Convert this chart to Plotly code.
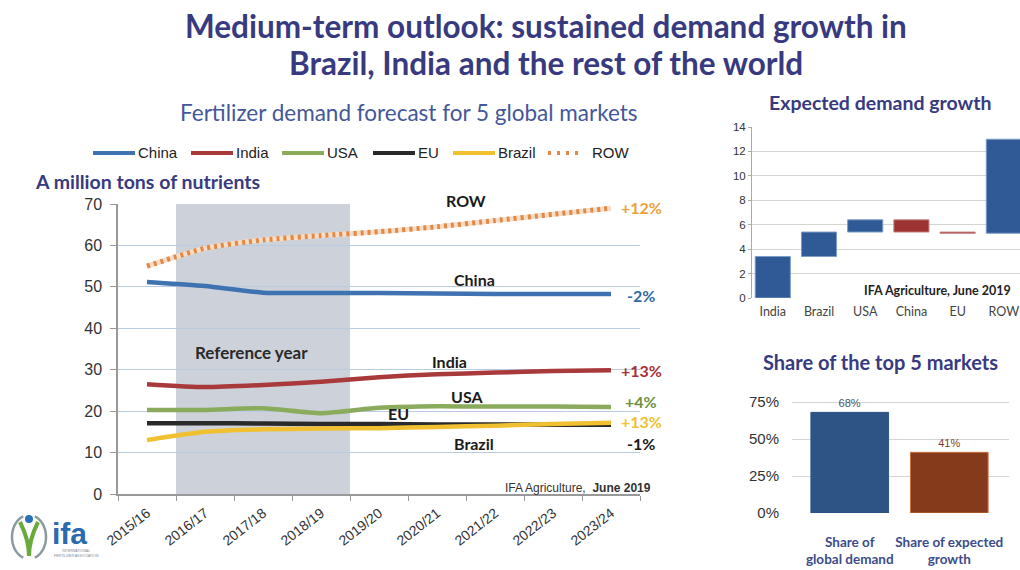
import math
import plotly.graph_objects as go

W, H = 1020, 570

# ---- data -------------------------------------------------------------
seasons = ["2015/16", "2016/17", "2017/18", "2018/19", "2019/20",
           "2020/21", "2021/22", "2022/23", "2023/24"]
china = [51.2, 50.2, 48.6, 48.5, 48.5, 48.4, 48.3, 48.3, 48.3]
india = [26.5, 25.8, 26.3, 27.1, 28.2, 28.9, 29.3, 29.7, 29.9]
usa = [20.3, 20.3, 20.7, 19.5, 20.8, 21.2, 21.1, 21.1, 21.0]
eu = [17.1, 17.1, 17.0, 16.9, 16.9, 16.8, 16.8, 16.7, 16.7]
brazil = [13.0, 15.0, 15.6, 15.8, 15.9, 16.2, 16.5, 16.9, 17.2]
row = [55.0, 59.3, 61.3, 62.4, 63.3, 64.5, 66.0, 67.5, 69.0]

growth_pct = ["+12%", "-2%", "+13%", "+4%", "+13%", "-1%"]  # ROW, China, India, USA, Brazil, EU

growth_markets = ["India", "Brazil", "USA", "China", "EU", "ROW"]
growth_steps = [3.4, 2.0, 1.0, -1.0, -0.1, 7.7]

share_cats = ["Share of<br>global demand", "Share of expected<br>growth"]
share_vals = [68, 41]
share_ticks = [0, 25, 50, 75]

# ---- styling ----------------------------------------------------------
SANS = "Liberation Sans, Arial, sans-serif"
CAL = "Lato, Open Sans, Noto Sans, sans-serif"
NAVY = "#383a80"

C_CHINA = "#3f72b0"
C_INDIA = "#a83a3c"
C_USA = "#8bab5c"
C_EU = "#2a2a2a"
C_BRAZIL = "#f0c030"
C_ROW = "#e08a4a"


def fx(px):
    return px / W


def fy(py):
    return 1 - py / H


fig = go.Figure()

series = [
    ("China", china, C_CHINA),
    ("India", india, C_INDIA),
    ("USA", usa, C_USA),
    ("EU", eu, C_EU),
    ("Brazil", brazil, C_BRAZIL),
]

# ROW: pale underlay with orange beads on top
fig.add_trace(go.Scatter(x=seasons, y=row, mode="lines", showlegend=False,
                         line=dict(color="#f8dcc4", width=5, shape="spline", smoothing=0.6),
                         hoverinfo="skip", xaxis="x", yaxis="y"))
fig.add_trace(go.Scatter(x=seasons, y=row, mode="lines", name="ROW", showlegend=False,
                         line=dict(color=C_ROW, width=5, dash="3px,4px", shape="spline", smoothing=0.6),
                         xaxis="x", yaxis="y"))
for name, vals, col in series:
    fig.add_trace(go.Scatter(x=seasons, y=vals, mode="lines", name=name, showlegend=False,
                             line=dict(color=col, width=4.5, shape="spline", smoothing=0.6),
                             xaxis="x", yaxis="y"))

# expected demand growth (waterfall)
fig.add_trace(go.Waterfall(
    x=growth_markets, y=growth_steps, measure=["relative"] * len(growth_steps),
    width=0.76, showlegend=False,
    increasing=dict(marker=dict(color="#2f5a96", line=dict(color="#7e9cc8", width=1))),
    decreasing=dict(marker=dict(color="#9c3232", line=dict(color="#c88080", width=1))),
    connector=dict(visible=False),
    xaxis="x2", yaxis="y2"))

# share of the top 5 markets
fig.add_trace(go.Bar(
    x=share_cats, y=share_vals, width=0.78, showlegend=False,
    marker=dict(color=["#2d5485", "#863a1c"], line=dict(color=["#2d5485", "#c8703a"], width=1)),
    text=[f"{v}%" for v in share_vals], textposition="outside",
    textfont=dict(family=SANS, size=11, color=["#4a5470", "#7a3e30"]),
    cliponaxis=False, xaxis="x3", yaxis="y3"))

# ---- annotations ------------------------------------------------------
ann = []


def text(t, x, y, size, color, bold=False, family=CAL, xanchor="center"):
    ann.append(dict(text=t, x=fx(x), y=fy(y), xref="paper", yref="paper",
                    xanchor=xanchor, yanchor="middle", showarrow=False,
                    font=dict(family=family, size=size, color=color,
                              weight="bold" if bold else "normal")))


text("Medium-term outlook: sustained demand growth in", 546, 26, 31.5, NAVY, True)
text("Brazil, India and the rest of the world", 546, 63, 31.5, NAVY, True)
text("Fertilizer demand forecast for 5 global markets", 409, 113, 22.5, "#44579a")
text("A million tons of nutrients", 33, 181, 19.5, NAVY, True, xanchor="left")

text("Expected demand growth", 880, 102, 19.5, NAVY, True)
text("Share of the top 5 markets", 880, 362, 20, NAVY, True)
text("IFA Agriculture, June 2019", 1013, 290, 12.5, "#222222", True, xanchor="right")

# series names on the main chart
text("ROW", 466, 200, 16, "#1a1a1a", True)
text("China", 474, 279, 16, "#1a1a1a", True)
text("India", 449, 361, 16, "#1a1a1a", True)
text("USA", 467, 397, 16, "#1a1a1a", True)
text("EU", 398, 413, 16, "#1a1a1a", True)
text("Brazil", 474, 443, 16, "#1a1a1a", True)
text("Reference year", 251, 352, 17, "#2a2a2a", True)

# growth percentages at line ends
pct_pos = [(207, "#eba23a"), (295, "#2f6aa5"), (370, "#a83038"),
           (401, "#6f9140"), (421, "#f0c030"), (443, "#1a1a1a")]
for lbl, (py, col) in zip(growth_pct, pct_pos):
    text(lbl, 641, py, 16, col, True)

text("IFA Agriculture,  <b>June 2019</b>", 653, 488, 12, "#333333",
     family=SANS, xanchor="right")

# legend (line samples + labels)
legend = [("China", C_CHINA, 93), ("India", C_INDIA, 191), ("USA", C_USA, 282),
          ("EU", C_EU, 373), ("Brazil", C_BRAZIL, 453)]
shapes = []
LY = 153
for name, col, x0 in legend:
    shapes.append(dict(type="line", xref="paper", yref="paper",
                       x0=fx(x0), x1=fx(x0 + 42), y0=fy(LY), y1=fy(LY),
                       line=dict(color=col, width=4)))
    text(name, x0 + 43, LY, 15, "#222222", family=SANS, xanchor="left")
shapes.append(dict(type="line", xref="paper", yref="paper",
                   x0=fx(548), x1=fx(582), y0=fy(LY), y1=fy(LY),
                   line=dict(color=C_ROW, width=4, dash="3px,6px")))
text("ROW", 590, LY, 15, "#222222", family=SANS, xanchor="left")

# reference-year band
shapes.append(dict(type="rect", xref="x", yref="y", x0=0.5, x1=3.5, y0=0, y1=70,
                   fillcolor="#cdd1d9", line=dict(width=0), layer="below"))


# IFA logo
def arc(cx, cy, rx, ry, a0, a1, n=24):
    pts = []
    for i in range(n + 1):
        a = math.radians(a0 + (a1 - a0) * i / n)
        pts.append((fx(cx + rx * math.cos(a)), fy(cy + ry * math.sin(a))))
    return "M " + " L ".join(f"{x:.5f},{y:.5f}" for x, y in pts)


shapes.append(dict(type="path", xref="paper", yref="paper", path=arc(29, 537, 17, 22, 110, 250),
                   line=dict(color="#8a9aa0", width=2.5)))
shapes.append(dict(type="path", xref="paper", yref="paper", path=arc(29, 537, 17, 22, -70, 70),
                   line=dict(color="#8a9aa0", width=2.5)))
shapes.append(dict(type="path", xref="paper", yref="paper",
                   path=f"M {fx(20)},{fy(522)} Q {fx(29)},{fy(540)} {fx(29)},{fy(556)} "
                        f"Q {fx(29)},{fy(540)} {fx(38)},{fy(522)}",
                   line=dict(color="#6aaa3a", width=4)))
shapes.append(dict(type="circle", xref="paper", yref="paper",
                   x0=fx(25), x1=fx(33), y0=fy(523), y1=fy(515),
                   fillcolor="#2a72b8", line=dict(width=0)))
text("ifa", 69, 533, 30, "#2a6bb0", True, family=SANS)
text("INTERNATIONAL<br>FERTILIZER ASSOCIATION", 52, 553, 3.5, "#7a8a9a",
     family=SANS, xanchor="left")

# ---- layout -----------------------------------------------------------
grid_main = "#b9cbe0"
fig.update_layout(
    width=W, height=H, margin=dict(l=0, r=0, t=0, b=0, autoexpand=False),
    paper_bgcolor="white", plot_bgcolor="rgba(0,0,0,0)",
    annotations=ann, shapes=shapes,
    xaxis=dict(domain=[fx(118), fx(640)], type="category", range=[-0.5, 8.5],
               tickson="boundaries", ticks="outside", ticklen=5, tickcolor="#999999",
               showline=True, linecolor="#999999", linewidth=1.5,
               tickangle=-38, ticklabelstandoff=4, automargin=False,
               tickfont=dict(family=SANS, size=14, color="#333333"),
               showgrid=False, zeroline=False, anchor="y"),
    yaxis=dict(domain=[fy(494), fy(204)], range=[0, 70], dtick=10,
               ticks="outside", ticklen=6, tickcolor="#999999",
               showline=True, linecolor="#999999", linewidth=1.5,
               gridcolor=grid_main, gridwidth=1, zeroline=False, automargin=False,
               ticklabelstandoff=5,
               tickfont=dict(family=SANS, size=16, color="#333333"), anchor="x"),
    xaxis2=dict(domain=[fx(752), fx(1020)], type="category", range=[-0.45, 5.35],
                showgrid=False, zeroline=False, showline=False, ticks="",
                tickangle=0, ticklabelstandoff=4, automargin=False,
                tickfont=dict(family=CAL, size=12.5, color="#444444"), anchor="y2"),
    yaxis2=dict(domain=[fy(298), fy(127)], range=[0, 14], dtick=2,
                ticks="outside", ticklen=3, tickcolor="#aaaaaa",
                showline=True, linecolor="#aaaaaa", linewidth=1,
                gridcolor="#d4d4d4", zeroline=False, automargin=False,
                tickfont=dict(family=SANS, size=11.5, color="#333333"), anchor="x2"),
    xaxis3=dict(domain=[fx(792), fx(1009)], type="category", range=[-0.58, 1.6],
                showgrid=False, zeroline=False, showline=False, ticks="",
                tickangle=0, ticklabelstandoff=19, automargin=False,
                tickfont=dict(family=CAL, size=13.5, color="#3d4c8a", weight="bold"),
                anchor="y3"),
    yaxis3=dict(domain=[fy(513), fy(513 - 80 * 1.48)], range=[0, 80],
                tickmode="array", tickvals=share_ticks,
                ticktext=[f"{t}%" for t in share_ticks], automargin=False,
                showline=False, ticks="", gridcolor="#d4d4d4", zeroline=False,
                ticklabelstandoff=12,
                tickfont=dict(family=SANS, size=15, color="#333333"), anchor="x3"),
)

fig.write_html("out.html")
